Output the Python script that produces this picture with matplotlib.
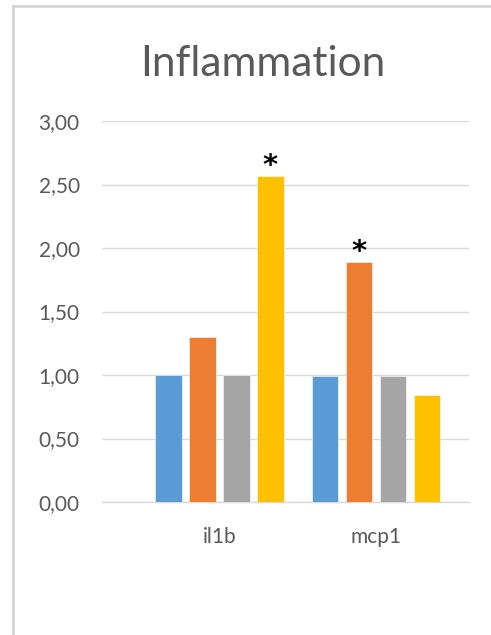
import matplotlib
matplotlib.use("Agg")
import matplotlib.pyplot as plt
from matplotlib.lines import Line2D
from matplotlib.ticker import FixedLocator

# Data
categories = ["il1b", "mcp1"]
series_values = [
    [1.00, 0.99],   # series 1
    [1.30, 1.89],   # series 2
    [1.00, 0.99],   # series 3
    [2.57, 0.84],   # series 4
]
series_colors = ["#5B9BD5", "#ED7D31", "#A5A5A5", "#FFC000"]
y_ticks = [0.0, 0.5, 1.0, 1.5, 2.0, 2.5, 3.0]
y_tick_labels = ["0,00", "0,50", "1,00", "1,50", "2,00", "2,50", "3,00"]
# (series index, category index) pairs flagged as significant
significant = [(3, 0), (1, 1)]

W, H = 491, 635
fig = plt.figure(figsize=(W / 100, H / 100), dpi=100)
fig.patch.set_facecolor("white")

# plot area in pixels
left_px, right_px, top_px, bottom_px = 102, 469, 121, 502
ax = fig.add_axes([left_px / W, 1 - bottom_px / H,
                   (right_px - left_px) / W, (bottom_px - top_px) / H])

font = "Lato"
label_color = "#595959"
grid_color = "#D9D9D9"

bar_w = 0.169
step = 0.2166
x = range(len(categories))
for i, (vals, col) in enumerate(zip(series_values, series_colors)):
    offs = (i - 1.5) * step
    ax.bar([c + offs for c in x], vals, width=bar_w, color=col,
           edgecolor="white", linewidth=0.4, zorder=3)

for s, c in significant:
    offs = (s - 1.5) * step
    ax.annotate("*", xy=(c + offs, series_values[s][c]), xytext=(0, -3),
                textcoords="offset points", ha="center", va="bottom",
                fontsize=21, fontweight="bold", color="black",
                family="DejaVu Sans", zorder=4)

ax.set_xlim(-0.751, 1.594)
ax.set_ylim(0, 3)
ax.yaxis.set_major_locator(FixedLocator(y_ticks))
ax.set_yticklabels(y_tick_labels)
ax.set_xticks(list(x))
ax.set_xticklabels(categories)

ax.grid(axis="y", color=grid_color, linewidth=1.0, zorder=0)
ax.set_axisbelow(True)
for side in ["left", "right", "top"]:
    ax.spines[side].set_visible(False)
ax.spines["bottom"].set_color(grid_color)
ax.spines["bottom"].set_linewidth(1.0)
ax.tick_params(axis="both", length=0, colors=label_color)
ax.tick_params(axis="y", pad=16)
ax.tick_params(axis="x", pad=18)
for lab in ax.get_yticklabels() + ax.get_xticklabels():
    lab.set_fontfamily(font)
    lab.set_fontsize(15)
    lab.set_color(label_color)

# chart title
fig.text(263 / W, 1 - 76 / H, "Inflammation", ha="center", va="baseline",
         fontsize=30.5, color=label_color, family=font)

# chart frame edges
fig.add_artist(Line2D([13 / W, 13 / W], [0, 1 - 6 / H], color="#D0D0D0",
                      linewidth=1.8, transform=fig.transFigure))
fig.add_artist(Line2D([13 / W, 1], [1 - 6 / H, 1 - 6 / H], color="#D0D0D0",
                      linewidth=1.8, transform=fig.transFigure))

fig.savefig("out.png", dpi=100, facecolor="white")
